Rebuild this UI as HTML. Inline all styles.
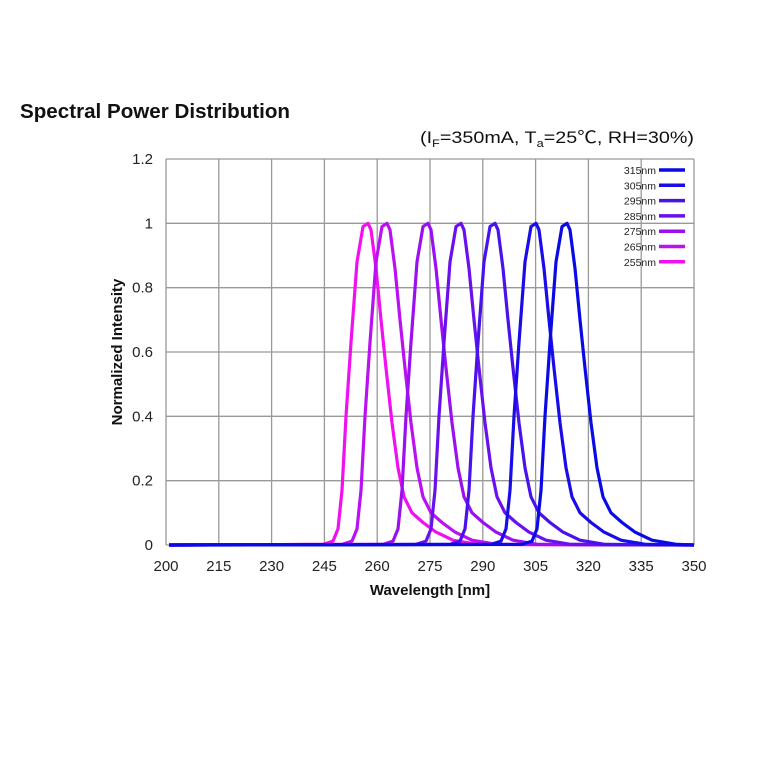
<!DOCTYPE html>
<html><head><meta charset="utf-8"><style>
body{margin:0;background:#fff;width:760px;height:760px;overflow:hidden}
svg text{font-family:"Liberation Sans","Noto Sans CJK KR",sans-serif}
</style></head><body>
<svg id="s" width="760" height="760" xmlns="http://www.w3.org/2000/svg">
<text x="20" y="118" font-size="20" font-weight="bold" fill="#111" textLength="270" lengthAdjust="spacingAndGlyphs">Spectral Power Distribution</text>
<text x="420" y="143" font-size="17" fill="#111" textLength="274" lengthAdjust="spacingAndGlyphs">(I<tspan font-size="11" dy="4">F</tspan><tspan dy="-4">=350mA, T</tspan><tspan font-size="11" dy="4">a</tspan><tspan dy="-4">=25℃, RH=30%)</tspan></text>
<g id="grid" stroke="#999" stroke-width="1.3"></g>
<g id="ticks" font-size="15" fill="#222"></g>
<g id="curves" fill="none" stroke-width="3.2" stroke-linejoin="round"></g>
<g id="leg" font-size="10.5" fill="#222"></g>
<text x="430" y="595" font-size="15" font-weight="bold" text-anchor="middle" fill="#111">Wavelength [nm]</text>
<text transform="translate(122,352) rotate(-90)" font-size="15" font-weight="bold" text-anchor="middle" fill="#111">Normalized Intensity</text>
</svg>
<script>
var NS="http://www.w3.org/2000/svg";
function el(p,t,a,txt){var e=document.createElementNS(NS,t);for(var k in a)e.setAttribute(k,a[k]);if(txt!=null)e.textContent=txt;document.getElementById(p).appendChild(e);return e;}
var x0=166,x1=694,y0=545,y1=159;
for(var i=0;i<=10;i++){var x=x0+(x1-x0)*i/10;el("grid","line",{x1:x,x2:x,y1:y1,y2:y0});el("ticks","text",{x:x,y:571,"text-anchor":"middle"},String(200+15*i));}
var yl=["0","0.2","0.4","0.6","0.8","1","1.2"];
for(var j=0;j<=6;j++){var y=y0-(y0-y1)*j/6;el("grid","line",{x1:x0,x2:x1,y1:y,y2:y});el("ticks","text",{x:153,y:y+5,"text-anchor":"end"},yl[j]);}
var shape=[[-420,0],[-45,0.002],[-35,0.012],[-30,0.05],[-26,0.17],[-22,0.4],[-17,0.63],[-11,0.88],[-5,0.99],[0,1],[3,0.98],[8,0.86],[13,0.7],[18,0.55],[24,0.38],[30,0.24],[36,0.15],[44,0.1],[55,0.07],[68,0.04],[85,0.015],[110,0.002],[300,0]];
var series=[["315nm",567,"#0a0ae6"],["305nm",536,"#1a0ce8"],["295nm",495,"#4812ec"],["285nm",461,"#6a10ee"],["275nm",428,"#9a10f0"],["265nm",387,"#bb10f2"],["255nm",368,"#f010f0"]];
for(var k=series.length-1;k>=0;k--){var s=series[k],pts=[];
 shape.forEach(function(p){var x=s[1]+p[0];x=Math.max(x0+3,Math.min(x1,x));pts.push(x.toFixed(1)+","+(y0-(y0-y1)/1.2*p[1]).toFixed(1));});
 el("curves","polyline",{points:pts.join(" "),stroke:s[2]});}
series.forEach(function(s,i){var y=170+i*15.3;el("leg","text",{x:656,y:y+4,"text-anchor":"end"},s[0]);el("leg","line",{x1:659,x2:685,y1:y,y2:y,stroke:s[2],"stroke-width":3.5});});
</script>
</body></html>
